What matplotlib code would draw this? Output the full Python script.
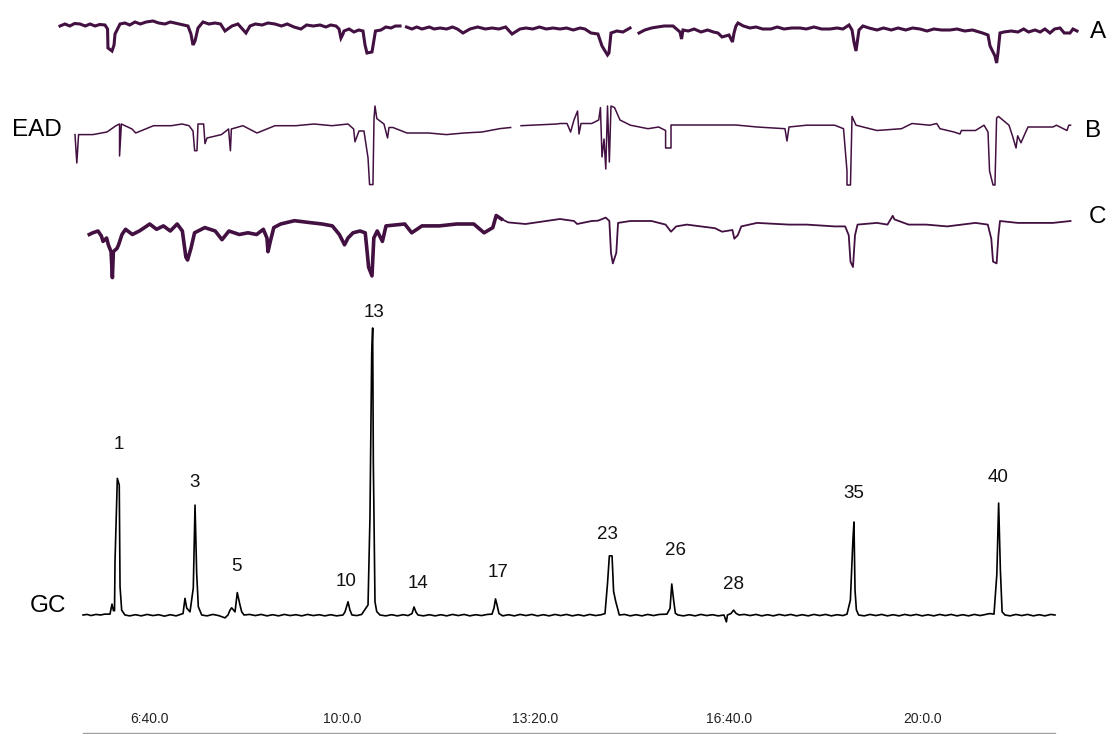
"""GC-EAD figure: FID trace (GC) with three antennal recordings (EAD A, B, C)."""
import matplotlib

matplotlib.use("Agg")
import matplotlib.pyplot as plt  # noqa: E402
import numpy as np  # noqa: E402

plt.rcParams["font.family"] = ["Liberation Sans", "DejaVu Sans"]

nan = np.nan

# --- data -------------------------------------------------------------------
# retention-time axis (s) and its labels (min:s)
tick_s = [400, 600, 800, 1000, 1200]
tick_labels = ["6:40.0", "10:0.0", "13:20.0", "16:40.0", "20:0.0"]

# GC (FID) trace: time (s), response (% of peak 13)
gc_points = np.array([
    (331.7, 0), (336, 0.2), (340, -0.2), (345, 0.2), (350, 0), (354, 0.3),
    (359.6, 0.3), (361.7, 3.8), (363.2, 1.5), (364.3, 1.5), (364.8, 18.6),
    (367.2, 47.6), (369.2, 45.3), (370, 9.9), (371.7, 1.7), (375.1, 0),
    (380, -0.3), (386, 0.1), (392, -0.3), (398, 0.2), (404, -0.2), (410, 0.1),
    (416, -0.4), (422, 0.1), (428, -0.3), (435.2, 0.5), (437.2, 5.8), (439, 2.4),
    (442.4, 1.1), (445.8, 9.4), (447.6, 38.3), (449.3, 14.6), (451, 2.9),
    (454.5, 0), (460, -0.3), (466, 0.2), (472, -0.2), (478.6, -1.0), (481.7, 0),
    (483.8, 1.7), (485.5, 2.5), (489, 1.1), (491.3, 7.8), (494.1, 3.5),
    (495.9, 1.1), (498.3, 0), (504, 0.2), (510, -0.2), (516, 0.2), (522, -0.3),
    (528, 0.1), (534, -0.3), (540, 0.2), (546, -0.2), (552, 0.1), (558, -0.3),
    (564, 0.2), (570, -0.2), (576, 0.1), (582, -0.3), (588, 0.1), (594, -0.3),
    (600.7, 0), (602.8, 1.1), (605.9, 4.6), (607.9, 1.7), (610, 0), (615, -0.2),
    (620, 0.2), (626.6, 3.5), (628.6, 34), (630.4, 91), (631.4, 100),
    (632.1, 53), (633.8, 4.6), (635.6, 1.2), (639, 0), (645, -0.3), (651, 0.1),
    (657, -0.3), (663, 0.1), (668, -0.2), (672.1, 0.5), (674.2, 2.8),
    (676.2, 1.0), (678.3, 0), (684, -0.3), (690, 0.1), (696, -0.3), (702, 0.1),
    (708, -0.3), (714, 0.2), (720, -0.2), (726, 0.2), (732, -0.3), (738, 0.1),
    (744, -0.2), (750, 0.2), (754.9, 0.3), (757, 2.5), (758.5, 5.6),
    (760.1, 3.5), (762.1, 0.5), (766, -0.3), (772, 0.1), (778, -0.3), (784, 0.2),
    (790, -0.2), (796, 0.2), (802, -0.3), (808, 0.1), (814, -0.3), (820, 0.2),
    (826, -0.2), (832, 0.2), (838, -0.3), (844, 0.1), (850, -0.3), (856, 0.2),
    (862, -0.2), (868, 0.1), (871.8, 0.5), (874.4, 11), (876.3, 20.6),
    (879.1, 20.6), (880.7, 8.2), (882.9, 4.7), (884.3, 2.9), (886.6, 0),
    (892, 0.2), (898, -0.3), (904, 0.1), (910, -0.3), (916, 0.2), (922, -0.2),
    (928, 0.2), (935.9, 0.3), (939.1, 2.3), (940.9, 10.8), (942.8, 5.2),
    (944.6, 0.6), (947.3, 0), (953, -0.3), (959, 0.1), (965, -0.3), (971, 0.2),
    (977, -0.2), (983, 0.1), (989, -0.3), (994.9, 0), (997.4, -2.4), (998.5, 0),
    (1002.1, 0.5), (1004.9, 1.7), (1007.3, 0.6), (1010.5, 0), (1016, 0.2),
    (1022, -0.2), (1028, 0.2), (1034, -0.3), (1040, 0.1), (1046, -0.3),
    (1052, 0.2), (1058, -0.2), (1064, 0.2), (1070, -0.3), (1076, 0.1),
    (1082, -0.3), (1088, 0.2), (1094, -0.2), (1100, 0.2), (1106, -0.3),
    (1112, 0.1), (1118, -0.2), (1122.2, 0.3), (1125.7, 5.2), (1128.3, 26),
    (1129.4, 32.4), (1130.5, 8.7), (1131.9, 1.8), (1134.2, 0), (1140, -0.3),
    (1146, 0.2), (1152, -0.2), (1158, 0.2), (1164, -0.3), (1170, 0.1),
    (1176, -0.3), (1182, 0.2), (1188, -0.2), (1194, 0.2), (1200, -0.3),
    (1206, 0.1), (1212, -0.3), (1218, 0.2), (1224, -0.2), (1230, 0.2),
    (1236, -0.3), (1242, 0.1), (1248, -0.3), (1254, 0.2), (1260, -0.2),
    (1266, 0.2), (1270, 0.5), (1274.3, 0.3), (1277.2, 14), (1279.1, 39),
    (1280.9, 15.7), (1282.7, 1.1), (1285.7, 0), (1291, -0.3), (1297, 0.2),
    (1303, -0.2), (1309, 0.2), (1315, -0.3), (1321, 0.1), (1327, -0.3),
    (1333, 0.2), (1337.4, 0),
])

# labelled GC peaks: number, retention time (s), apex (% of peak 13)
peak_ids = ["1", "3", "5", "10", "13", "14", "17", "23", "26", "28", "35", "40"]
peak_rt = [367.2, 447.6, 491.3, 605.9, 631.4, 674.2, 758.5, 876.3, 940.9, 1004.9, 1129.4, 1279.1]
peak_h = [47.6, 38.3, 7.8, 4.6, 100, 2.8, 5.6, 20.6, 10.8, 1.7, 32.4, 39]

# EAD traces: time (s), response (uV); nan = gap in the recording
ead_a = np.array([
    (307.9, -10), (313, 10), (318, -10), (323, 15), (328.6, 10), (334, -10),
    (339, 10), (344.1, -10), (349, 5), (354.4, 0), (357.1, -40), (357.5, -230),
    (361.7, -260), (363.8, -200), (364.8, -90), (370, 10), (375, 20), (380, 0),
    (385.5, 30), (391, 10), (397, 30), (404.1, 40), (410, 20), (416.5, 10),
    (422, 30), (431, 10), (436, 0), (440.3, -10), (443.4, -90), (445.5, -200),
    (447.6, -160), (450.7, -30), (455.8, 30), (462, 10), (468.3, 20), (474, 10),
    (478.6, -60), (485.8, -10), (492, 10), (500.3, -80), (504.5, -10), (510, 10),
    (517, 0), (523, 20), (530.3, 10), (537, -10), (543, 10), (550, -20),
    (557.2, -40), (563, 0), (570, -10), (576.9, 0), (583, -20), (588, 0),
    (593.5, -10), (596.6, -40), (598.6, -130), (600.7, -90), (601.7, -60),
    (607, -40), (612, -70), (617, -50), (621.4, -60), (623.5, -200),
    (625.5, -280), (630.7, -270), (634.3, -60), (640, -50), (645, -20),
    (650.4, -30), (655, -10), (659.7, -10), (662, nan), (666.4, -20), (672, -40),
    (677, -20), (682.4, -40), (690, -20), (695, -40), (701.1, -30), (708, -40),
    (714, -20), (719, -40), (724.9, -80), (732.1, -40), (740, -20), (748, -40),
    (755, -30), (762, -40), (769, -20), (775.6, -90), (783.8, -40), (790, -30),
    (797, -40), (804, -20), (811, -40), (818, -30), (825.2, -40), (832, -30),
    (839, -50), (846, -30), (851, -40), (857.3, -80), (864.5, -90),
    (868.7, -210), (874.4, -300), (875.9, -280), (878, -80), (884, -60),
    (890.4, -70), (897.7, -30), (900, nan), (907, -80), (913, -50), (919.9, -30),
    (926, -20), (933, -10), (942.2, -10), (949.4, -70), (951, -140),
    (952.5, -50), (958, -60), (964, -40), (971.1, -70), (978, -50), (984, -70),
    (988.7, -80), (992.9, -120), (1000.1, -100), (1003.7, -170), (1005.3, -80),
    (1007.3, -10), (1009.4, 20), (1015, -10), (1021.8, -30), (1028, -20),
    (1035, -40), (1043.5, -40), (1050, -20), (1057, -40), (1065, -30),
    (1073.6, -30), (1080, -40), (1088, -20), (1096, -40), (1104.6, -40),
    (1112, -30), (1118, -40), (1124.3, 0), (1127.4, -50), (1129.4, -170),
    (1131.5, -260), (1134.6, -50), (1138.7, -10), (1145, -30), (1153.2, -50),
    (1160, -30), (1168, -50), (1175, -30), (1183, -50), (1190, -30),
    (1197.7, -40), (1205, -60), (1212, -40), (1220, -50), (1228.8, -50),
    (1236, -40), (1244, -60), (1252, -50), (1262.4, -80), (1268.1, -100),
    (1270.2, -210), (1275.3, -310), (1277, -380), (1278.4, -280), (1280.5, -80),
    (1284.6, -70), (1292, -60), (1299.1, -70), (1305, -40), (1310, -70),
    (1316.7, -50), (1322, -70), (1327, -40), (1332.2, -80), (1337, -40),
    (1342.6, -30), (1347, -80), (1353, -80), (1356, -40), (1360.2, -60),
])

ead_b = np.array([
    (323.4, -66), (325.3, -350), (327.1, -66), (341.9, -66), (356.5, -40),
    (365.8, 23), (369.5, 40), (369.5, -280), (371.4, 40), (382.4, -10),
    (386.2, -50), (404.7, 23), (423.1, 23), (434.1, 40), (441.4, 23),
    (445.5, -30), (447.2, -227), (449.6, -227), (450.7, 40), (456.5, 40),
    (457.9, -156), (460, -100), (474.9, -66), (482.3, -10), (484.2, -227),
    (485.2, -10), (497.1, 23), (511.7, -50), (530.3, 23), (552.1, 23),
    (570.7, 40), (589.3, 23), (605.9, 40), (611.7, -10), (613.1, -138),
    (617.3, -30), (622.4, -30), (626.6, -299), (628.2, -566), (631.7, -566),
    (632.8, 94), (633.8, 220), (635.7, 94), (643.1, 40), (646.8, -100),
    (648.3, 5), (652.4, 5), (666.9, -50), (689.3, -50), (707.7, -66),
    (725.9, -50), (744.5, -40), (763.2, -6), (774.2, 5), (780.7, nan),
    (784.9, 23), (822.1, 40), (825.2, 45), (832.5, 45), (836.2, -40),
    (839.7, 80), (843.4, 170), (844.9, -60), (847, 45), (858, 45), (865.3, 80),
    (867.1, 204), (868.7, -290), (870.8, -110), (872.6, -410), (874.4, 220),
    (876.3, -340), (878, 220), (881.7, 204), (887.3, 80), (898.1, 28),
    (916.3, -7), (927.3, 10), (934.5, -25), (934.5, -200), (940.1, -200),
    (940.1, 30), (981.5, 30), (1007.3, 30), (1029.1, 10), (1058, -7),
    (1060.1, -130), (1062.2, 10), (1080.3, 28), (1109.4, 28), (1118.6, -7),
    (1122.2, -430), (1122.2, -570), (1125.8, -570), (1127.4, 116),
    (1131.5, 28), (1153.2, -25), (1178.6, -7), (1189.4, 45), (1207.8, 28),
    (1215, 45), (1218.4, -7), (1232.9, -40), (1239.1, -60), (1240.6, -25),
    (1255.1, -25), (1264, 28), (1268.1, -40), (1269.7, -430), (1273.3, -570),
    (1275.3, -570), (1277, 100), (1278.9, 116), (1289.8, 28), (1293.4, -78),
    (1297.1, -200), (1298.8, -78), (1302.2, -148), (1306.2, -60), (1309.5, 10),
    (1335.3, 10), (1338.9, 28), (1349.8, -25), (1351.7, 28), (1353.5, 28),
])

ead_c = np.array([
    (338.2, -125), (341.8, -108), (347.2, -90), (350.7, -140), (352.4, -194),
    (356.1, -160), (357.9, -228), (360.7, -297), (362.1, -556), (363.1, -297),
    (366.9, -263), (368.5, -228), (372, -125), (375.7, -73), (382.8, -125),
    (389.9, -90), (395.3, -56), (400.7, -20), (407.8, -73), (414.9, -39),
    (422, -90), (429.1, -20), (434.5, -90), (438.1, -350), (439.9, -380),
    (443.4, -263), (447.1, -108), (457.7, -56), (468.5, -90), (475.5, -177),
    (482.7, -90), (493.4, -125), (502.4, -108), (511.3, -125), (518.3, -73),
    (522, -160), (523.1, -297), (525.5, -194), (529.1, -56), (536.2, -20),
    (550.5, 13), (564.8, -4), (579, -20), (589.7, -39), (596.9, -125),
    (602.3, -228), (605.9, -160), (611.1, -108), (618.3, -90), (623.7, -108),
    (625.5, -280), (627.2, -452), (630.7, -539), (632.6, -160), (636.1, -90),
    (641.5, -194), (645.2, -39), (664.6, -20), (671.8, -108), (682.4, -39),
    (700.3, -39), (718.2, -20), (736, -20), (746.7, -108), (755.7, -56),
    (759.2, 65), (764.6, 30), (771.7, -4), (789.5, -20), (825.2, 30),
    (839.7, 10), (843, -20), (858, 10), (864.5, 13), (872.6, 44), (876.3, 10),
    (878, -308), (879.9, -414), (883.5, -308), (885.3, -9), (898.1, 10),
    (919.9, 10), (934.5, -26), (940.1, -97), (945.5, -44), (956.4, -26),
    (970.9, -44), (985.6, -62), (992.9, -97), (1003.7, -80), (1005.6, -167),
    (1009.2, -132), (1012.8, -44), (1029.1, -9), (1062.1, -26), (1080.3, -26),
    (1109.4, -44), (1120.3, -44), (1124, -132), (1125.8, -396), (1128.4, -450),
    (1130.5, -132), (1133.1, -26), (1153.2, -9), (1164.1, -26), (1169.5, 62),
    (1171.3, 26), (1185.9, -26), (1204.1, -26), (1226, -44), (1255.1, -9),
    (1267.9, -26), (1271.5, -167), (1273.3, -396), (1277, -414), (1278.9, -132),
    (1280.5, 10), (1298.8, -9), (1335.3, -9), (1353.5, 10),
])

# --- layout -----------------------------------------------------------------
W, H = 1112, 734
XLIM = (245.8, 1396.4)
EAD_COL = "#421041"
UV_PER_PX = 10.0       # EAD scale
PCT_PER_PX = 1 / 2.87  # GC scale

fig = plt.figure(figsize=(W / 100, H / 100), dpi=100)


def band(top, bottom, ref, per_px):
    """Axes spanning a horizontal pixel band, with value 0 at pixel row `ref`."""
    ax = fig.add_axes([0, 1 - bottom / H, 1, (bottom - top) / H])
    ax.set_xlim(*XLIM)
    ax.set_ylim(-(bottom - ref) * per_px, (ref - top) * per_px)
    ax.set_axis_off()
    return ax


ax_a = band(0, 80, 25, UV_PER_PX)
ax_b = band(80, 195, 128, UV_PER_PX)
ax_c = band(195, 290, 222, UV_PER_PX)
ax_gc = band(290, 732.5, 615, PCT_PER_PX)

ax_a.plot(ead_a[:, 0], ead_a[:, 1], color=EAD_COL, lw=2.2, solid_joinstyle="miter")
ax_b.plot(ead_b[:, 0], ead_b[:, 1], color=EAD_COL, lw=1.1)
noisy = ead_c[:, 0] < 765
ax_c.plot(ead_c[noisy, 0], ead_c[noisy, 1], color=EAD_COL, lw=2.6)
ax_c.plot(ead_c[:, 0], ead_c[:, 1], color=EAD_COL, lw=1.3)

ax_gc.plot(gc_points[:, 0], gc_points[:, 1], color="black", lw=1.2)

label_dx = [1, 0, -1, -2, 1, 4, 3, -2, 4, 0, 0, -1]
label_dy = [34, 23, 26, 20, 15, 23, 26, 21, 34, 26, 29, 26]
for lab, rt, h, dx, dy in zip(peak_ids, peak_rt, peak_h, label_dx, label_dy):
    ax_gc.annotate(lab, (rt, h), xytext=(dx, dy), textcoords="offset pixels",
                   ha="center", va="center", fontsize=13.5, color="#111111")

# time axis: grey base line with labels sitting above it
ax_gc.set_axis_on()
for side in ("top", "left", "right"):
    ax_gc.spines[side].set_visible(False)
ax_gc.spines["bottom"].set_bounds(331.7, 1337.4)
ax_gc.spines["bottom"].set_color("#a0a0a0")
ax_gc.spines["bottom"].set_linewidth(1.0)
ax_gc.set_yticks([])
ax_gc.set_xticks(tick_s)
ax_gc.set_xticklabels(tick_labels)
ax_gc.tick_params(axis="x", length=0, pad=-15, labelsize=10, labelcolor="#222222")
ax_gc.patch.set_visible(False)

txt = dict(fontsize=17.5, color="black", va="center")
fig.text(12 / W, 1 - 130 / H, "EAD", ha="left", **txt)
fig.text(30 / W, 1 - 606 / H, "GC", ha="left", **txt)
fig.text(1098 / W, 1 - 32 / H, "A", ha="center", **txt)
fig.text(1093 / W, 1 - 131 / H, "B", ha="center", **txt)
fig.text(1097 / W, 1 - 217 / H, "C", ha="center", **txt)

fig.savefig("out.png", dpi=100)
